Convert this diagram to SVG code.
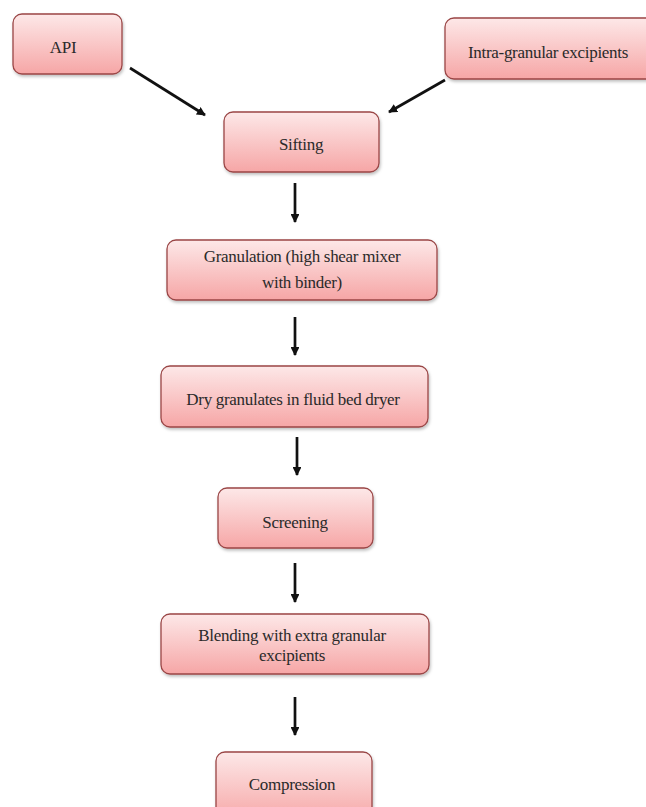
<svg xmlns="http://www.w3.org/2000/svg" width="646" height="807" viewBox="0 0 646 807">
<defs>
<linearGradient id="g" x1="0" y1="0" x2="0" y2="1">
<stop offset="0" stop-color="#fde8e8"/>
<stop offset="1" stop-color="#f6a6a6"/>
</linearGradient>
<filter id="sh" x="-10%" y="-10%" width="120%" height="130%">
<feDropShadow dx="1" dy="2" stdDeviation="1.5" flood-color="#000" flood-opacity="0.25"/>
</filter>
<marker id="ah" viewBox="0 0 10 10" refX="9" refY="5" markerWidth="3.3" markerHeight="3.3" orient="auto" markerUnits="strokeWidth">
<path d="M0,0 L10,5 L0,10 z" fill="#111"/>
</marker>
</defs>
<style>
.box{fill:url(#g);stroke:#9a4646;stroke-width:1.3;filter:url(#sh)}
.t{font-family:"Liberation Serif","Times New Roman",serif;font-size:17px;fill:#2a2a2a;text-anchor:middle;letter-spacing:-0.3px}
.c{stroke:#111;stroke-width:2.7;fill:none;marker-end:url(#ah)}
</style>
<rect width="646" height="807" fill="#fff"/>
<g id="api"><rect class="box" x="13" y="14" width="109" height="60" rx="9"/><text class="t" x="63" y="53">API</text></g>
<g id="intra"><rect class="box" x="445" y="18" width="215" height="61" rx="9"/><text class="t" x="548" y="58">Intra-granular excipients</text></g>
<g id="sifting"><rect class="box" x="224" y="112" width="155" height="60" rx="9"/><text class="t" x="301" y="150">Sifting</text></g>
<g id="granulation"><rect class="box" x="167" y="240" width="270" height="60" rx="9"/><text class="t" x="302" y="262">Granulation (high shear mixer</text><text class="t" x="302" y="288">with binder)</text></g>
<g id="dry"><rect class="box" x="161" y="366" width="267" height="61" rx="9"/><text class="t" x="293" y="405">Dry granulates in fluid bed dryer</text></g>
<g id="screening"><rect class="box" x="218" y="488" width="155" height="60" rx="9"/><text class="t" x="295" y="528">Screening</text></g>
<g id="blending"><rect class="box" x="161" y="614" width="268" height="60" rx="9"/><text class="t" x="292" y="641">Blending with extra granular</text><text class="t" x="292" y="661">excipients</text></g>
<g id="compression"><rect class="box" x="216" y="752" width="156" height="70" rx="9"/><text class="t" x="292" y="790">Compression</text></g>
<g id="connectors">
<line class="c" x1="130" y1="68" x2="205" y2="115"/>
<line class="c" x1="445" y1="80" x2="389" y2="112"/>
<line class="c" x1="295" y1="183" x2="295" y2="222"/>
<line class="c" x1="295" y1="317" x2="295" y2="355"/>
<line class="c" x1="297" y1="437" x2="297" y2="475"/>
<line class="c" x1="295" y1="563" x2="295" y2="602"/>
<line class="c" x1="295" y1="697" x2="295" y2="735"/>
</g>
</svg>
